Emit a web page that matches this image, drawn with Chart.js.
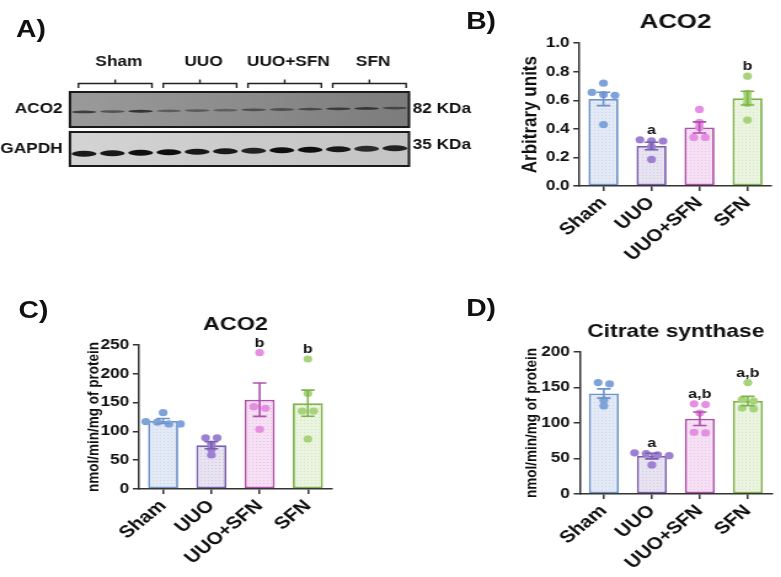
<!DOCTYPE html>
<html>
<head>
<meta charset="utf-8">
<script src="https://cdn.jsdelivr.net/npm/chart.js@4.4.1/dist/chart.umd.min.js"></script>
<style>
  html, body { margin: 0; padding: 0; background: #fff; overflow: hidden; }
  /* the source figure is stretched sideways, so the whole panel set is too */
  #fig { position: absolute; left: 0; top: 0; width: 635px; height: 577px; transform: scaleX(1.23); transform-origin: 0 0; }
  #fig canvas, #fig .tag { position: absolute; }
  .tag { font: bold 23px "Liberation Sans", Arial, sans-serif; color: #111; line-height: 1; }
</style>
</head>
<body>
<div id="fig">
  <div class="tag" style="left:13px;top:18px">A)</div>
  <div class="tag" style="left:379px;top:10px">B)</div>
  <div class="tag" style="left:15px;top:299px">C)</div>
  <div class="tag" style="left:379px;top:297px">D)</div>
  <canvas id="blot" width="400" height="180" style="left:0;top:0"></canvas>
  <canvas id="chartB" width="237" height="290" style="left:398px;top:0"></canvas>
  <canvas id="chartC" width="317" height="287" style="left:0;top:290px"></canvas>
  <canvas id="chartD" width="318" height="287" style="left:317px;top:290px"></canvas>
</div>
<script>
const FONT = "'Liberation Sans', Arial, Helvetica, sans-serif";
Chart.defaults.font.family = FONT;
Chart.defaults.font.weight = 'bold';
Chart.defaults.color = '#111';

const groups = ['Sham', 'UUO', 'UUO+SFN', 'SFN'];

// B) ACO2 protein, western blot densitometry
const bMean = [0.61, 0.28, 0.41, 0.615];
const bSem = [0.047, 0.026, 0.039, 0.048];
const bPoints = [
  [0.72, 0.655, 0.64, 0.635, 0.43],
  [0.324, 0.317, 0.315, 0.275, 0.186],
  [0.536, 0.445, 0.41, 0.34, 0.34],
  [0.769, 0.648, 0.613, 0.578, 0.462]
];
const bSig = ['', 'a', '', 'b'];
const bTicks = [0, 0.2, 0.4, 0.6, 0.8, 1.0];

// C) ACO2 activity
const cMean = [118, 76, 155, 149];
const cSem = [4.3, 6, 29, 22.6];
const cPoints = [
  [132.5, 117, 116, 113, 113],
  [89, 89, 78, 69, 59],
  [236.7, 143, 140, 103.6],
  [225.7, 166, 135.4, 135.4, 86.8]
];
const cSig = ['', '', 'b', 'b'];
const cTicks = [0, 50, 100, 150, 200, 250];

// D) citrate synthase activity
const dMean = [141.5, 53.5, 106, 131];
const dSem = [6.5, 4, 9.5, 6.5];
const dPoints = [
  [157, 155, 132, 124],
  [58, 57, 55, 54, 41],
  [127, 126, 114, 87, 86],
  [157, 133, 131, 121, 120]
];
const dSig = ['', 'a', 'a,b', 'a,b'];
const dTicks = [0, 50, 100, 150, 200];

// A) blot lanes (3 per group), relative band strength
const aco2Lanes = [0.8, 0.6, 0.9, 0.5, 0.5, 0.45, 0.6, 0.6, 0.65, 0.8, 0.85, 0.65];
const gapdhLanes = [0.95, 0.95, 1.0, 1.0, 0.95, 0.95, 0.9, 1.0, 1.0, 0.95, 0.85, 0.9];

// styles
const edge = ['#6d93c9', '#7a5fae', '#b04fa9', '#7db34a'];
const dotCol = ['#7ea3d9', '#9d80d2', '#e58ee2', '#a7d37a'];
const fillBase = ['#e3eaf6', '#e8e3f1', '#f6e0f4', '#ebf4e1'];
const fillDot = ['#c8d6ee', '#d3c9e6', '#ebc4e8', '#d5e7c0'];

function dotFill(base, dot) {
  const c = document.createElement('canvas');
  c.width = 3; c.height = 3;
  const g = c.getContext('2d');
  g.fillStyle = base; g.fillRect(0, 0, 3, 3);
  g.fillStyle = dot; g.fillRect(1, 1, 1, 1);
  return g.createPattern(c, 'repeat');
}

// horizontal spread for dots of similar value (like a scatter dot plot)
function spread(vals, thr) {
  const idx = vals.map((v, i) => i).sort((a, b) => vals[b] - vals[a]);
  const rows = [];
  idx.forEach(i => {
    const last = rows[rows.length - 1];
    if (last && vals[last[last.length - 1]] - vals[i] < thr) last.push(i);
    else rows.push([i]);
  });
  const off = [];
  rows.forEach(r => r.forEach((i, k) => { off[i] = (k - (r.length - 1) / 2) * 0.24; }));
  return off;
}

function makeChart(id, o) {
  const ymax = o.ticks[o.ticks.length - 1];
  const pts = [], ptCol = [];
  o.points.forEach((vals, g) => {
    const off = spread(vals, ymax * 0.035);
    vals.forEach((v, k) => { pts.push({x: g + off[k], y: v}); ptCol.push(dotCol[g]); });
  });

  const semBars = {
    id: 'semBars',
    afterDatasetsDraw(chart) {
      const {ctx} = chart;
      const x = chart.scales.x, y = chart.scales.y;
      ctx.save();
      o.mean.forEach((m, i) => {
        const cx = x.getPixelForValue(i);
        const hi = y.getPixelForValue(m + o.sem[i]);
        const lo = y.getPixelForValue(m - o.sem[i]);
        ctx.strokeStyle = edge[i];
        ctx.lineWidth = 1.6;
        ctx.beginPath();
        ctx.moveTo(cx, hi); ctx.lineTo(cx, lo);
        ctx.moveTo(cx - 5.5, hi); ctx.lineTo(cx + 5.5, hi);
        ctx.moveTo(cx - 5.5, lo); ctx.lineTo(cx + 5.5, lo);
        ctx.stroke();
        if (o.sig[i]) {
          const top = Math.max(m + o.sem[i], ...o.points[i]);
          ctx.fillStyle = '#111';
          ctx.font = 'bold 13px ' + FONT;
          ctx.textAlign = 'center';
          ctx.textBaseline = 'alphabetic';
          ctx.fillText(o.sig[i], cx, y.getPixelForValue(top) - 6);
        }
      });
      ctx.restore();
    }
  };

  return new Chart(document.getElementById(id), {
    type: 'bar',
    data: {
      datasets: [
        {
          type: 'scatter',
          data: pts,
          pointRadius: 3.6,
          pointBorderWidth: 0,
          pointBackgroundColor: ptCol,
          order: 1
        },
        {
          type: 'bar',
          data: o.mean.map((m, i) => ({x: i, y: m})),
          backgroundColor: fillBase.map((b, i) => dotFill(b, fillDot[i])),
          borderColor: edge,
          borderWidth: 1.8,
          borderSkipped: false,
          grouped: false,
          barPercentage: 0.625,
          categoryPercentage: 1,
          order: 2
        }
      ]
    },
    options: {
      responsive: false,
      devicePixelRatio: 1,
      animation: false,
      events: [],
      layout: { padding: { left: o.padLeft, right: o.padRight, top: 0, bottom: 0 } },
      plugins: {
        legend: { display: false },
        tooltip: { enabled: false },
        title: {
          display: true,
          text: o.title,
          fullSize: false,
          color: '#111',
          font: { size: o.titleSize, weight: 'bold' },
          padding: { top: o.titlePad[0], bottom: o.titlePad[1] }
        }
      },
      scales: {
        x: {
          type: 'linear',
          min: -0.5,
          max: groups.length - 0.5,
          offset: false,
          grid: { drawOnChartArea: false, drawTicks: true, tickLength: 5, offset: false, color: '#333', lineWidth: 1.5 },
          border: { color: '#333', width: 1.5 },
          afterBuildTicks: s => { s.ticks = groups.map((g, i) => ({value: i})); },
          ticks: {
            maxRotation: 45, minRotation: 45, autoSkip: false, padding: 2, color: '#111',
            font: { size: 17, weight: 'bold' },
            callback: v => groups[v]
          },
          afterFit: s => { s.height = o.xHeight; }
        },
        y: {
          min: o.ticks[0],
          max: ymax,
          grid: { drawOnChartArea: false, drawTicks: true, tickLength: 5, color: '#333', lineWidth: 1.5 },
          border: { color: '#333', width: 1.5 },
          ticks: {
            stepSize: o.ticks[1] - o.ticks[0],
            padding: 3,
            color: '#111',
            font: { size: 14, weight: 'bold' },
            callback: v => v.toFixed(o.dec)
          },
          title: {
            display: true,
            text: o.yTitle,
            color: '#111',
            padding: 0,
            font: { size: o.yTitleSize, weight: 'bold' }
          },
          afterFit: s => { s.width = o.yWidth; }
        }
      }
    },
    plugins: [semBars]
  });
}

makeChart('chartB', {
  mean: bMean, sem: bSem, points: bPoints, sig: bSig, ticks: bTicks, dec: 1,
  title: 'ACO2', titleSize: 21, titlePad: [10, 8],
  yTitle: 'Arbitrary units', yTitleSize: 17,
  padLeft: 23.5, padRight: 7.8, yWidth: 49.6, xHeight: 104
});
makeChart('chartC', {
  mean: cMean, sem: cSem, points: cPoints, sig: cSig, ticks: cTicks, dec: 0,
  title: 'ACO2', titleSize: 19, titlePad: [23.1, 9.1],
  yTitle: 'nmol/min/mg of protein', yTitleSize: 13.5,
  padLeft: 68.2, padRight: 47.1, yWidth: 44.8, xHeight: 88
});
makeChart('chartD', {
  mean: dMean, sem: dSem, points: dPoints, sig: dSig, ticks: dTicks, dec: 0,
  title: 'Citrate synthase', titleSize: 18.5, titlePad: [30.4, 9.4],
  yTitle: 'nmol/min/mg of protein', yTitleSize: 13.5,
  padLeft: 107.6, padRight: 7.5, yWidth: 46.8, xHeight: 83
});

// -----------------Blot (panel A)
const blotPlugin = {
  id: 'blotDraw',
  afterDraw(chart) {
    const {ctx, chartArea: a} = chart;
    const x = chart.scales.x;
    const lw = x.getPixelForValue(1) - x.getPixelForValue(0);
    const rows = [
      { top: a.top, h: 35, bg: ['#9a9a9a', '#8c8c8c', '#7c7c7c'], lanes: aco2Lanes, mid: 18, tilt: -0.35, ry: 1.4, ink: '40,40,40', name: 'ACO2', kda: '82 KDa', kdaY: 17 },
      { top: a.top + 40, h: 34, bg: ['#d4d4d4', '#cbcbcb', '#c4c4c4'], lanes: gapdhLanes, mid: 19, tilt: -0.5, ry: 3, ink: '15,15,15', name: 'GAPDH', kda: '35 KDa', kdaY: 13 }
    ];
    ctx.save();
    rows.forEach(r => {
      const grad = ctx.createLinearGradient(a.left, 0, a.right, 0);
      grad.addColorStop(0, r.bg[0]); grad.addColorStop(0.5, r.bg[1]); grad.addColorStop(1, r.bg[2]);
      ctx.fillStyle = grad;
      ctx.fillRect(a.left, r.top, a.right - a.left, r.h);
      ctx.filter = 'blur(0.7px)';
      r.lanes.forEach((v, i) => {
        const cx = x.getPixelForValue(i + 0.5);
        const cy = r.top + r.mid + r.tilt * (i - 5.5);
        ctx.fillStyle = 'rgba(' + r.ink + ',' + v + ')';
        ctx.beginPath();
        ctx.ellipse(cx, cy, lw * 0.44, r.ry, 0, 0, Math.PI * 2);
        ctx.fill();
      });
      ctx.filter = 'none';
      ctx.strokeStyle = '#1a1a1a';
      ctx.lineWidth = 2;
      ctx.strokeRect(a.left, r.top, a.right - a.left, r.h);
      ctx.fillStyle = '#111';
      ctx.font = 'bold 14px ' + FONT;
      ctx.textBaseline = 'middle';
      ctx.textAlign = 'right';
      ctx.fillText(r.name, a.left - 6, r.top + r.h / 2);
      ctx.textAlign = 'left';
      ctx.fillText(r.kda, a.right + 3, r.top + r.kdaY);
    });
    // group brackets and names
    ctx.strokeStyle = '#222';
    ctx.lineWidth = 1.4;
    groups.forEach((g, i) => {
      const x0 = x.getPixelForValue(3 * i + 0.3);
      const x1 = x.getPixelForValue(3 * i + 2.9);
      const xm = (x0 + x1) / 2;
      const y = a.top - 8.5;
      ctx.beginPath();
      ctx.moveTo(x0, y + 4.5); ctx.lineTo(x0, y); ctx.lineTo(x1, y); ctx.lineTo(x1, y + 4.5);
      ctx.moveTo(xm, y); ctx.lineTo(xm, y - 4);
      ctx.stroke();
      ctx.fillStyle = '#111';
      ctx.textAlign = 'center';
      ctx.fillText(g, xm + 3, a.top - 30);
    });
    ctx.restore();
  }
};

new Chart(document.getElementById('blot'), {
  type: 'scatter',
  data: { datasets: [] },
  options: {
    responsive: false,
    devicePixelRatio: 1,
    animation: false,
    events: [],
    layout: { padding: { left: 56.9, right: 67.5, top: 92, bottom: 14 } },
    plugins: { legend: { display: false }, tooltip: { enabled: false } },
    scales: {
      x: { type: 'linear', min: 0, max: 12, display: false },
      y: { type: 'linear', min: 0, max: 1, display: false }
    }
  },
  plugins: [blotPlugin]
});
</script>
</body>
</html>
